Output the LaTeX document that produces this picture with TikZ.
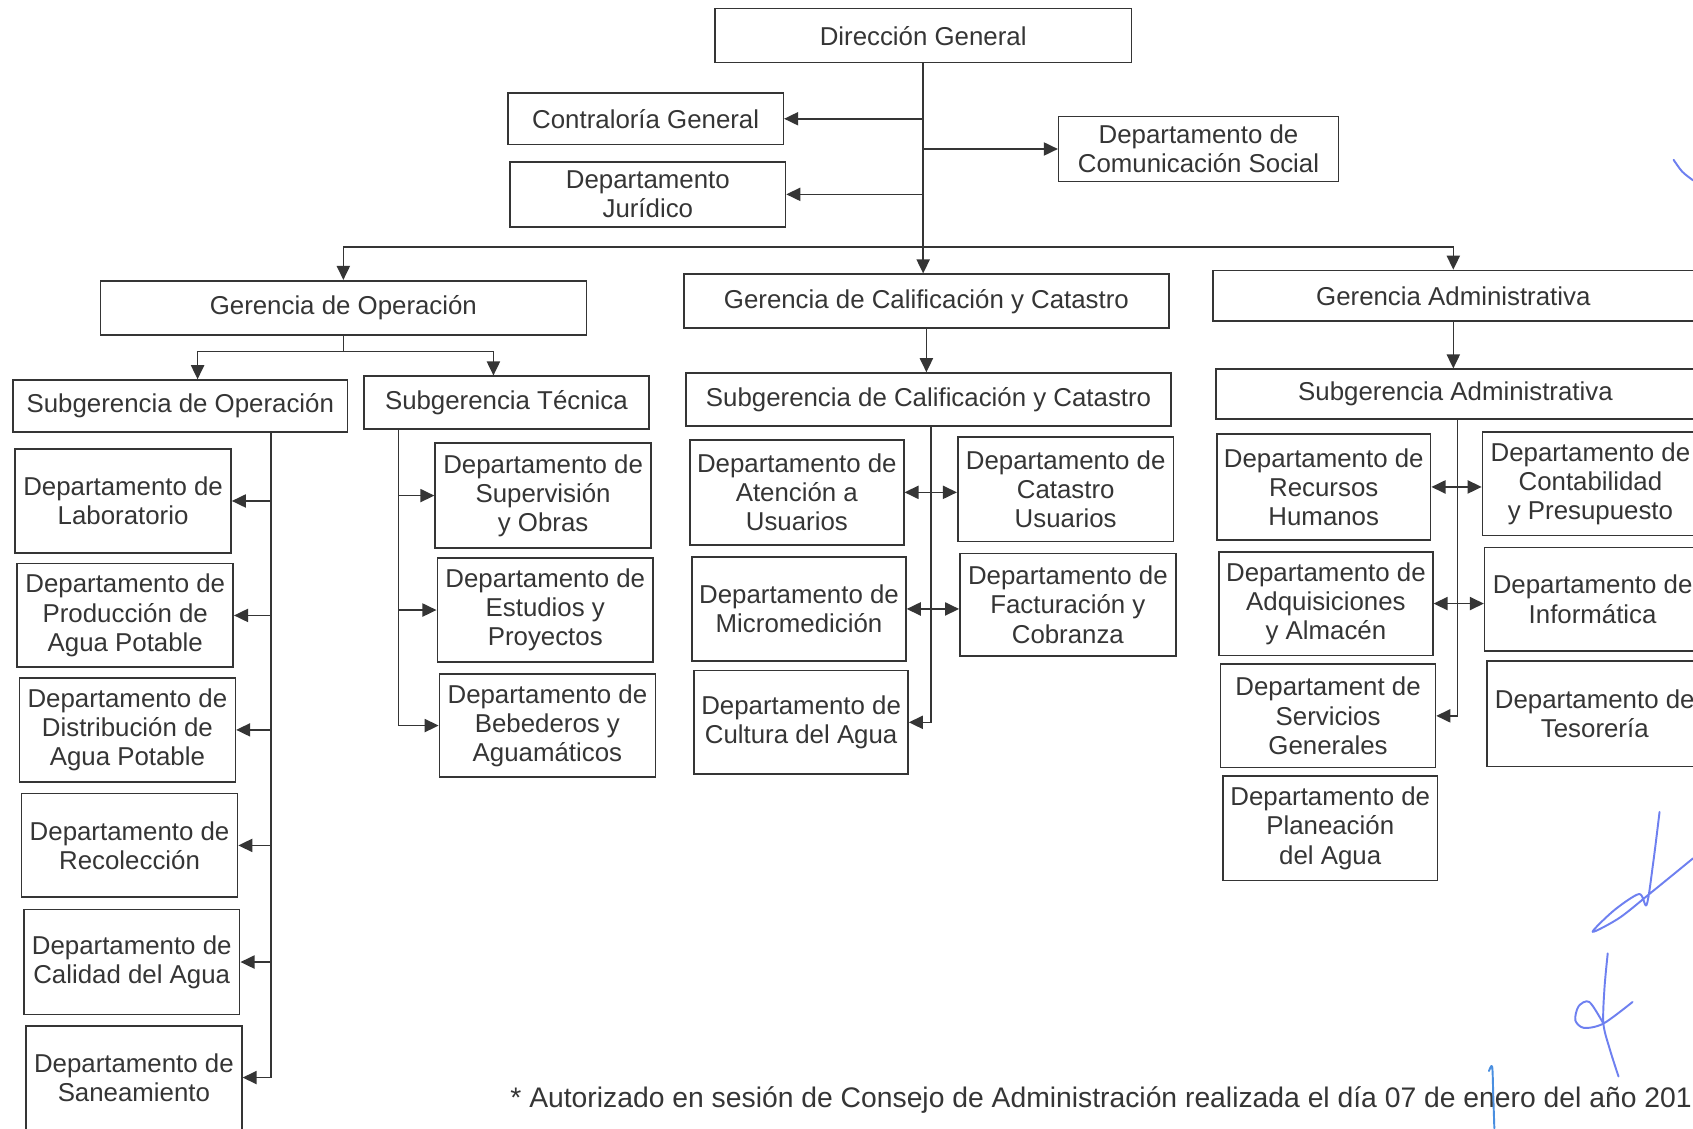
\documentclass[tikz,border=0pt]{standalone}
\usepackage{fontspec}
\setmainfont{Liberation Sans}
\usetikzlibrary{arrows.meta, positioning}
\newcommand{\pxu}{0.021594cm}
\definecolor{tinta}{HTML}{353535}
\definecolor{firma}{HTML}{6E80F0}
\definecolor{pluma}{HTML}{4A8FE0}
\tikzset{
  caja/.style={draw=tinta, line width=0.9pt, text=tinta, align=center, inner sep=0pt,
    font=\fontsize{14.7}{16.6}\selectfont},
  dims/.style 2 args={minimum width=#1*\pxu, minimum height=#2*\pxu},
  trazo/.style={line width=1.1pt, line cap=round, line join=round}
}
\begin{document}
\begin{tikzpicture}[x=0.021594cm, y=-0.021594cm, color=tinta, line width=0.9pt,
  >={Triangle[length=8pt,width=7.5pt]}]
\path[use as bounding box, fill=white] (0,0) rectangle (1568,1045);

\node[caja, dims={386}{50}] (dg) at (855,33) {Dirección General};
\node[caja, dims={255}{48}] (cg) at (598,110) {Contraloría General};
\node[caja, dims={255}{60}] (dj) at (600,180) {Departamento\\Jurídico};
\node[caja, dims={259}{60}] (dcs) at (1110,138) {Departamento de\\Comunicación Social};

\node[caja, dims={450}{50}] (gop) at (318,285) {Gerencia de Operación};
\node[caja, dims={449}{50}] (gcc) at (858,279) {Gerencia de Calificación y Catastro};
\node[caja, dims={445}{47}] (gad) at (1346,274) {Gerencia Administrativa};

\node[caja, dims={310}{48}] (sop) at (167,376) {Subgerencia de Operación};
\node[caja, dims={264}{49}] (stec) at (469,373) {Subgerencia Técnica};
\node[caja, dims={449}{49}] (scc) at (860,370) {Subgerencia de Calificación y Catastro};
\node[caja, dims={444}{46}] (sad) at (1348,365) {Subgerencia Administrativa};

\node[caja, dims={200}{96}] (lab) at (114,464) {Departamento de\\Laboratorio};
\node[caja, dims={200}{96}] (prod) at (116,570) {Departamento de\\Producción de\\Agua Potable};
\node[caja, dims={200}{96}] (dist) at (118,676) {Departamento de\\Distribución de\\Agua Potable};
\node[caja, dims={200}{96}] (rec) at (120,783) {Departamento de\\Recolección};
\node[caja, dims={200}{97}] (cal) at (122,891) {Departamento de\\Calidad del Agua};
\node[caja, dims={200}{96}] (san) at (124,998) {Departamento de\\Saneamiento};

\node[caja, dims={200}{97}] (sup) at (503,459) {Departamento de\\Supervisión\\y Obras};
\node[caja, dims={200}{96}] (est) at (505,565) {Departamento de\\Estudios y\\Proyectos};
\node[caja, dims={200}{95}] (beb) at (507,672) {Departamento de\\Bebederos y\\Aguamáticos};

\node[caja, dims={198}{97}] (aten) at (738,456) {Departamento de\\Atención a\\Usuarios};
\node[caja, dims={198}{96}] (micro) at (740,564) {Departamento de\\Micromedición};
\node[caja, dims={198}{96}] (cult) at (742,669) {Departamento de\\Cultura del Agua};
\node[caja, dims={200}{97}] (catu) at (987,453) {Departamento de\\Catastro\\Usuarios};
\node[caja, dims={200}{95}] (fact) at (989,560) {Departamento de\\Facturación y\\Cobranza};

\node[caja, dims={198}{98}] (rrhh) at (1226,451) {Departamento de\\Recursos\\Humanos};
\node[caja, dims={198}{96}] (adq) at (1228,559) {Departamento de\\Adquisiciones\\y Almacén};
\node[caja, dims={199}{96}] (serv) at (1230,663) {Departament de\\Servicios\\Generales};
\node[caja, dims={199}{97}] (plan) at (1232,767) {Departamento de\\Planeación\\del Agua};
\node[caja, dims={200}{96}] (cont) at (1473,448) {Departamento de\\Contabilidad\\y Presupuesto};
\node[caja, dims={200}{96}] (inf) at (1475,555) {Departamento de\\Informática};
\node[caja, dims={200}{98}] (tes) at (1477,661) {Departamento de\\Tesorería};

\node[anchor=west, inner sep=0pt, text=tinta, font=\fontsize{16.1}{18}\selectfont] (nota) at (472,1019)
  {* Autorizado en sesión de Consejo de Administración realizada el día 07 de enero del año 201};

\coordinate (bar) at (855,229);
\draw[->] (dg.south) -- (dg.south |- gcc.north);
\draw[->] (dg.south |- cg) -- (cg);
\draw[->] (dg.south |- dcs) -- (dcs);
\draw[->] (dg.south |- dj) -- (dj);
\draw[->] (bar) -| (gop);
\draw[->] (bar) -| (gad);

\draw (gop.south) -- ++(0,15) coordinate (g1);
\draw[->] (g1) -| ([xshift=16*\pxu]sop.north);
\draw[->] (g1) -| ([xshift=-12*\pxu]stec.north);
\draw[->] (gcc.south) -- (gcc.south |- scc.north);
\draw[->] (gad.south) -- (gad.south |- sad.north);

\coordinate (t1) at (251,400);
\coordinate (t2) at (369,397);
\coordinate (t3) at (862,394);
\coordinate (t4) at (1350,388);
\foreach \n in {lab,prod,dist,rec,cal,san} \draw[->] (t1) |- (\n);
\foreach \n in {sup,est,beb} \draw[->] (t2) |- (\n);
\draw[->] (t3) |- (cult);
\draw[<->] (aten.east) -- (aten.east -| catu.west);
\draw[<->] (micro.east) -- (micro.east -| fact.west);
\draw[->] (t4) |- (serv);
\draw[<->] (rrhh.east) -- (rrhh.east -| cont.west);
\draw[<->] (adq.east) -- (adq.east -| inf.west);

\draw[firma, trazo] plot[smooth] coordinates {(1550,148) (1558,159) (1568,167)};
\draw[firma, trazo] plot[smooth] coordinates {(1537,752) (1531,800) (1525,838) (1518,828) (1495,843) (1475,863) (1500,850) (1530,826) (1568,795)};
\draw[firma, trazo] plot[smooth] coordinates {(1489,883) (1486,915) (1485,948) (1491,972) (1499,997)};
\draw[firma, trazo] plot[smooth] coordinates {(1485,948) (1472,928) (1462,932) (1459,945) (1467,952) (1485,948) (1512,928)};
\draw[pluma, trazo] plot[smooth] coordinates {(1379,992) (1382,988) (1383,1015) (1384,1045)};
\end{tikzpicture}
\end{document}
